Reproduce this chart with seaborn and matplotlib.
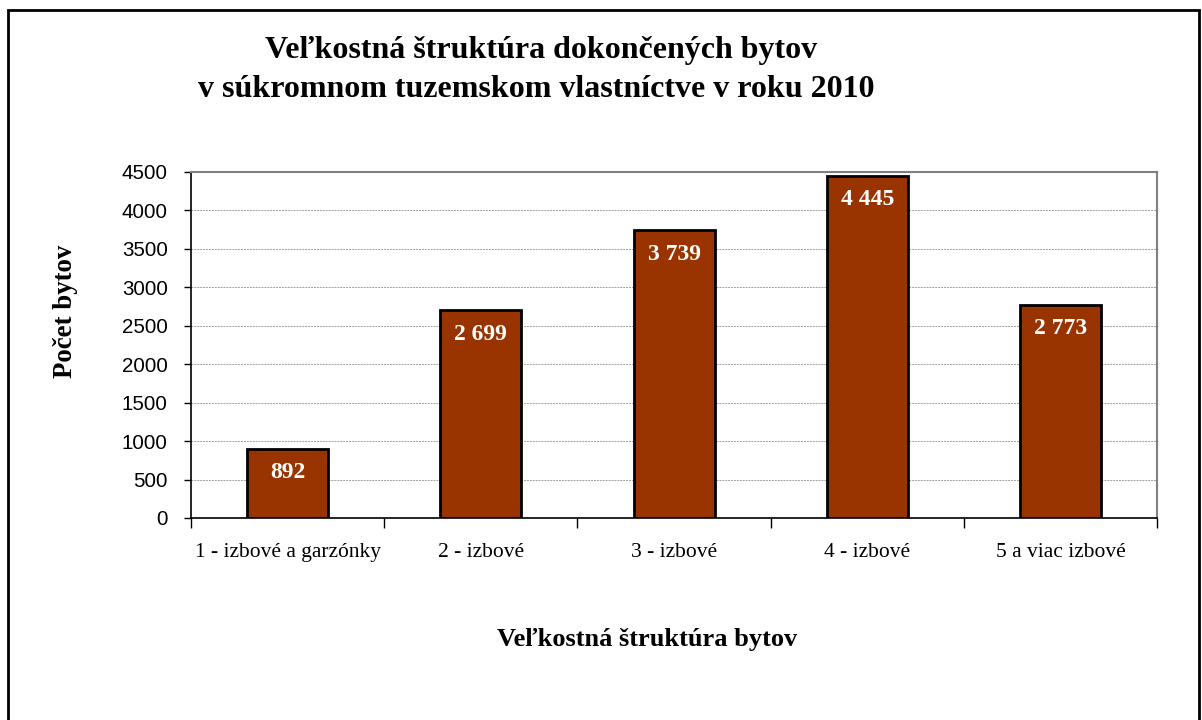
#bar chart of completed flats by size, 2010

import seaborn as sns
from matplotlib import pyplot as plt
from matplotlib.patches import Rectangle
import pandas as pd

#data
categories = ["1 - izbové a garzónky", "2 - izbové", "3 - izbové", "4 - izbové", "5 a viac izbové"]
values = [892, 2699, 3739, 4445, 2773]
value_labels = ["892", "2 699", "3 739", "4 445", "2 773"]
yticks = [0, 500, 1000, 1500, 2000, 2500, 3000, 3500, 4000, 4500]

df = pd.DataFrame({"kategoria": categories, "pocet": values})

sns.set_style("white")
plt.rcParams['font.family'] = ['Liberation Serif', 'DejaVu Serif']
plt.rcParams['text.color'] = 'black'
plt.rcParams['xtick.color'] = 'black'
plt.rcParams['ytick.color'] = 'black'
plt.rcParams['axes.labelcolor'] = 'black'

fig = plt.figure(figsize=(12.02, 7.2), dpi=100)
ax = fig.add_axes([0.159, 0.2806, 0.8036, 0.4806])

sns.barplot(data=df, x="kategoria", y="pocet", color="#993300", saturation=1,
            edgecolor="black", linewidth=2, width=0.42, ax=ax, zorder=3)

#labels inside the bars
for i, v in enumerate(values):
    ax.annotate(value_labels[i], (i, v), xytext=(0, -17), textcoords="offset points",
                ha="center", va="center", color="white", fontsize=17, fontweight="bold")

ax.set_ylim(0, 4500)
ax.set_xlim(-0.5, 4.5)
ax.set_yticks(yticks)
ax.set_yticklabels([str(t) for t in yticks], family="Liberation Sans", fontsize=14.8)
ax.yaxis.grid(True, linestyle=(0, (2, 1)), color="#a0a0a0", linewidth=0.7, zorder=0)
ax.set_axisbelow(True)

#category ticks sit on the borders, labels in the middle
ax.set_xticks([-0.5, 0.5, 1.5, 2.5, 3.5, 4.5])
ax.set_xticklabels([])
ax.set_xticks(range(5), minor=True)
ax.set_xticklabels(categories, minor=True, fontsize=15.5)
ax.tick_params(axis="x", which="major", bottom=True, length=7, width=1, color="black", direction="out")
ax.tick_params(axis="x", which="minor", bottom=False, length=0, pad=18)
ax.tick_params(axis="y", left=True, length=5, width=1, color="black", direction="out", pad=11.8)

for s in ["top", "right"]:
    ax.spines[s].set_color("#808080")
    ax.spines[s].set_linewidth(1.5)
for s in ["left", "bottom"]:
    ax.spines[s].set_color("black")
    ax.spines[s].set_linewidth(1.2)

ax.set_xlabel("")
ax.set_ylabel("Počet bytov", fontsize=19.4, fontweight="bold")
ax.yaxis.set_label_coords(-0.1175, 0.598)
fig.text(0.538, 0.112, "Veľkostná štruktúra bytov", ha="center", va="center",
         fontsize=19, fontweight="bold")

fig.text(0.450, 0.930, "Veľkostná štruktúra dokončených bytov", ha="center", va="center",
         fontsize=23, fontweight="bold")
fig.text(0.446, 0.876, "v súkromnom tuzemskom vlastníctve v roku 2010", ha="center", va="center",
         fontsize=23, fontweight="bold")

#outer frame around the chart
fig.patches.append(Rectangle((8 / 1202, -0.05), (1199 - 8) / 1202, 1.05 - 10 / 720,
                             transform=fig.transFigure, fill=False, edgecolor="black", linewidth=2))

plt.savefig("out.png", dpi=100)
